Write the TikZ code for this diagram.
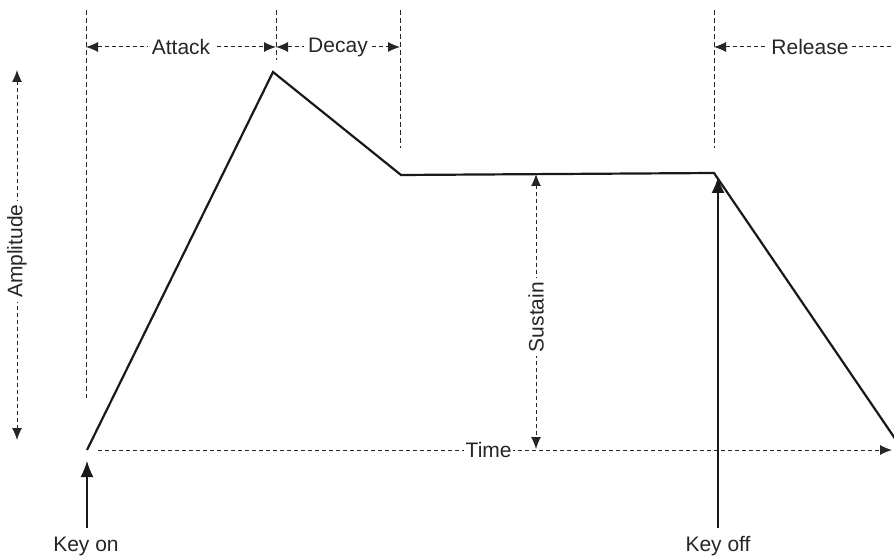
\documentclass[tikz,border=0pt]{standalone}
\usepackage{fontspec}
\setmainfont{Liberation Sans}
\usetikzlibrary{arrows.meta}
\begin{document}
\begin{tikzpicture}[x=1pt,y=-1pt,
  dim/.style={line width=1pt,dash pattern=on 4pt off 3pt,color=black!85},
  guide/.style={line width=1pt,dash pattern=on 5pt off 3pt,color=black!85},
  tip/.style={-{Latex[length=12pt,width=10pt]}},
  bitip/.style={{Latex[length=12pt,width=10pt]}-{Latex[length=12pt,width=10pt]}},
  env/.style={line width=2.2pt,line join=miter,color=black!90},
  txt/.style={font=\fontsize{21}{24}\selectfont,text=black!85},
  lab/.style={txt,fill=white,inner sep=4pt},
  keyarrow/.style={line width=1.3pt,-{Latex[length=16pt,width=13pt]},color=black!90}]
\useasboundingbox (0,0) rectangle (894,556);
% key points
\coordinate (p0) at (87,450);
\coordinate (p1) at (273,72);
\coordinate (p2) at (401,175);
\coordinate (p3) at (714,173);
\coordinate (p4) at (896,440);
% guide lines
\coordinate (g0t) at (86,10);  \coordinate (g0b) at (86,398);
\coordinate (g1t) at (276,10); \coordinate (g1b) at (276,60);
\coordinate (g2t) at (400,10); \coordinate (g2b) at (400,148);
\coordinate (g3t) at (714,10); \coordinate (g3b) at (714,148);
\draw[guide] (g0t) -- (g0b);
\draw[guide] (g1t) -- (g1b);
\draw[guide] (g2t) -- (g2b);
\draw[guide] (g3t) -- (g3b);
% phase arrows
\coordinate (a0) at (86,47); \coordinate (a1) at (276,47);
\coordinate (a2) at (400,47); \coordinate (a3) at (714,47); \coordinate (a4) at (894,47);
\draw[dim,bitip] (a0) -- node[lab,pos=0.5] (attack) {Attack} (a1);
\draw[dim,bitip] (a1) -- node[lab,pos=0.5] (decay) {Decay} (a2);
\draw[dim,{Latex[length=12pt,width=10pt]}-] (a3) -- node[lab,pos=0.533] (release) {Release} (a4);
% envelope
\draw[env] (p0) -- (p1) -- (p2) -- (p3) -- (p4);
% amplitude
\coordinate (am0) at (17,70); \coordinate (am1) at (17,440);
\draw[dim,bitip] (am0) -- node[lab,rotate=90,pos=0.49] (amp) {Amplitude} (am1);
% time axis
\coordinate (t0) at (98,450); \coordinate (t1) at (892,450);
\draw[dim,tip] (t0) -- node[lab,pos=0.492,inner sep=1.5pt] (time) {Time} (t1);
% sustain
\coordinate (s0) at (536,174); \coordinate (s1) at (536,449);
\draw[dim,bitip] (s0) -- node[lab,rotate=90,pos=0.52] (sustain) {Sustain} (s1);
% keys
\node[txt,inner sep=0pt,anchor=base] (keyon) at (86,551) {Key on};
\node[txt,inner sep=0pt,anchor=base] (keyoff) at (718,551) {Key off};
\coordinate (kon) at (87,461);
\coordinate (koff) at (718,177);
\draw[keyarrow] ([xshift=1pt,yshift=8pt]keyon.north) -- (kon);
\draw[keyarrow] ([yshift=8pt]keyoff.north) -- (koff);
\end{tikzpicture}
\end{document}
